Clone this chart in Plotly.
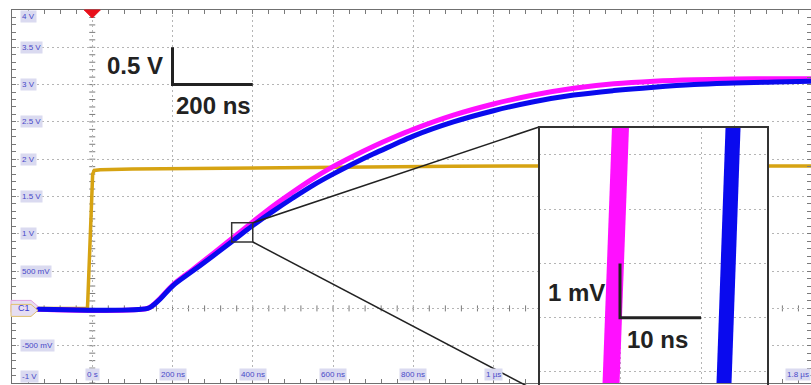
import numpy as np
import plotly.graph_objects as go

# ---------------- data (time in µs, voltage in V) ----------------
t_ch1 = [-0.2, -0.012, -0.011, -0.007, -0.005, -0.002, 0.001, 0.005, 0.02, 0.1, 0.3, 0.6, 0.9, 1.2, 1.5, 1.8]
v_ch1 = [0.0, 0.0, 0.12, 0.65, 0.85, 1.3, 1.8, 1.85, 1.86, 1.87, 1.88, 1.90, 1.905, 1.91, 1.91, 1.91]

t_ch2 = [-0.2, 0.138, 0.15, 0.17, 0.2, 0.25, 0.3, 0.35, 0.4, 0.45, 0.5, 0.55, 0.6, 0.65, 0.7, 0.75, 0.8,
         0.9, 1.0, 1.1, 1.2, 1.3, 1.4, 1.5, 1.6, 1.7, 1.8]
v_ch2 = [0.0, 0.0, 0.04, 0.14, 0.31, 0.52, 0.73, 0.945, 1.16, 1.37, 1.56, 1.74, 1.90, 2.04, 2.17, 2.29, 2.40,
         2.59, 2.74, 2.86, 2.95, 3.01, 3.045, 3.065, 3.075, 3.08, 3.08]

t_ch3 = [-0.2, 0.138, 0.15, 0.17, 0.2, 0.25, 0.3, 0.35, 0.4, 0.45, 0.5, 0.55, 0.6, 0.65, 0.7, 0.75, 0.8,
         0.9, 1.0, 1.1, 1.2, 1.3, 1.4, 1.5, 1.6, 1.7, 1.8]
v_ch3 = [0.0, 0.0, 0.035, 0.13, 0.30, 0.50, 0.70, 0.905, 1.11, 1.30, 1.48, 1.65, 1.80, 1.94, 2.07, 2.19, 2.31,
         2.50, 2.65, 2.77, 2.86, 2.92, 2.965, 3.0, 3.02, 3.035, 3.045]

# zoomed inset (time in ns, voltage in mV)
inset_mv = [-0.5, 5.0]
inset_t_ch2 = [8.82, 10.18]
inset_t_ch3 = [22.77, 24.07]

y_tick_vals = [4, 3.5, 3, 2.5, 2, 1.5, 1, 0.5, -0.5, -1]
y_tick_text = ["4 V", "3.5 V", "3 V", "2.5 V", "2 V", "1.5 V", "1 V", "500 mV", "-500 mV", "-1 V"]
x_tick_vals = [0, 0.2, 0.4, 0.6, 0.8, 1.0]
x_tick_text = ["0 s", "200 ns", "400 ns", "600 ns", "800 ns", "1 µs"]
x_last_label = "1.8 µs"

zoom_box_t = [0.3475, 0.4]
zoom_box_v = [0.89, 1.147]

# ---------------- layout geometry ----------------
W, H = 811, 385
ML, MR, MT, MB = 12, 0, 10, 2
XR = [-0.2, 1.7913]
YR = [-1.0, 4.0]
PW, PH = W - ML - MR, H - MT - MB

INS_X = [(539 - ML) / PW, (768 - ML) / PW]
INS_Y = [0.0, (H - MB - 127) / PH]
INS_XR = [0, 28.27]
INS_YR = [-0.203, 4.516]

GRID = "#b5b5b5"
TICK = "#7a7a7a"
LBL_FONT = dict(family="Liberation Sans, Arial", size=8, color="#4848c8")
LBL_BG = "#dadaf0"
BIG_FONT = dict(family="Liberation Sans, Arial", size=24, color="#222222")


def px(t):
    return (t - XR[0]) / (XR[1] - XR[0])


def py(v):
    return (v - YR[0]) / (YR[1] - YR[0])


fig = go.Figure()

fig.add_trace(go.Scatter(x=t_ch1, y=v_ch1, mode="lines", line=dict(color="#d6a312", width=3.5),
                         hoverinfo="skip", showlegend=False))
fig.add_trace(go.Scatter(x=t_ch2, y=v_ch2, mode="lines", line=dict(color="#ff10ff", width=5, shape="spline", smoothing=1.0),
                         hoverinfo="skip", showlegend=False))
fig.add_trace(go.Scatter(x=t_ch3, y=v_ch3, mode="lines", line=dict(color="#0a0aee", width=5, shape="spline", smoothing=1.0),
                         hoverinfo="skip", showlegend=False))

fig.add_trace(go.Scatter(x=inset_t_ch2, y=inset_mv, mode="lines", line=dict(color="#ff10ff", width=17),
                         xaxis="x2", yaxis="y2", hoverinfo="skip", showlegend=False))
fig.add_trace(go.Scatter(x=inset_t_ch3, y=inset_mv, mode="lines", line=dict(color="#0a0aee", width=15),
                         xaxis="x2", yaxis="y2", hoverinfo="skip", showlegend=False))

shapes = []
# white background for the inset
shapes.append(dict(type="rect", xref="x2 domain", yref="y2 domain", x0=0, x1=1, y0=0, y1=1,
                   fillcolor="white", line=dict(width=0), layer="below"))

# cross ticks on centre lines
for v in np.arange(-1.0, 4.001, 0.1):
    shapes.append(dict(type="line", xref="x", yref="y", xsizemode="pixel", xanchor=0,
                       x0=-3, x1=3, y0=v, y1=v, line=dict(color=TICK, width=1), layer="below"))
for t in np.arange(-0.2, 1.8, 0.04):
    shapes.append(dict(type="line", xref="x", yref="y", ysizemode="pixel", yanchor=0,
                       y0=-3, y1=3, x0=t, x1=t, line=dict(color=TICK, width=1), layer="below"))

# small zoom box
shapes.append(dict(type="rect", xref="x", yref="y", x0=zoom_box_t[0], x1=zoom_box_t[1],
                   y0=zoom_box_v[0], y1=zoom_box_v[1], line=dict(color="#333333", width=1.5)))
# connecting lines
shapes.append(dict(type="line", xref="paper", yref="paper", x0=px(zoom_box_t[1]), y0=py(zoom_box_v[1]),
                   x1=INS_X[0], y1=INS_Y[1], line=dict(color="#222222", width=1.5)))
shapes.append(dict(type="line", xref="paper", yref="paper", x0=px(zoom_box_t[1]), y0=py(zoom_box_v[0]),
                   x1=INS_X[0], y1=-0.025, line=dict(color="#222222", width=1.5)))
# inset frame
shapes.append(dict(type="rect", xref="paper", yref="paper", x0=INS_X[0], x1=INS_X[1],
                   y0=-0.1, y1=INS_Y[1], line=dict(color="#333333", width=2)))

# scale bars
shapes.append(dict(type="path", xref="x", yref="y", path="M 0.2,3.5 L 0.2,3.0 L 0.4,3.0",
                   line=dict(color="#222222", width=3)))
shapes.append(dict(type="path", xref="x2", yref="y2", path="M 10,2 L 10,1 L 20,1",
                   line=dict(color="#222222", width=3)))

# trigger marker
shapes.append(dict(type="path", xref="x", yref="paper", xsizemode="pixel", ysizemode="pixel",
                   xanchor=0, yanchor=1, path="M -8,0 L 8,0 L 0,-8 Z",
                   fillcolor="#e8101a", line=dict(color="#e8101a", width=1)))

# channel marker
for dy, col in [(2, "#e0a0e0"), (-2, "#e0c070")]:
    shapes.append(dict(type="path", xref="paper", yref="y", xsizemode="pixel", ysizemode="pixel",
                       xanchor=0, yanchor=0,
                       path=f"M -1,{6+dy} L 19,{6+dy} L 26,{dy} L 19,{-6+dy} L -1,{-6+dy} Z",
                       fillcolor="#e6def2", line=dict(color=col, width=1)))

annotations = []
for v, txt in zip(y_tick_vals, y_tick_text):
    anchor = "middle"
    if v == 4:
        anchor = "top"
    elif v == -1:
        anchor = "bottom"
    annotations.append(dict(xref="paper", yref="y", x=0, y=v, xshift=8, xanchor="left", yanchor=anchor,
                            text=txt, showarrow=False, font=LBL_FONT, bgcolor=LBL_BG, borderpad=1))
for t, txt in zip(x_tick_vals, x_tick_text):
    annotations.append(dict(xref="x", yref="y", x=t, y=-1, yshift=2, xanchor="center", yanchor="bottom",
                            text=txt, showarrow=False, font=LBL_FONT, bgcolor=LBL_BG, borderpad=1))
annotations.append(dict(xref="paper", yref="y", x=1, y=-1, yshift=2, xanchor="right", yanchor="bottom",
                        text=x_last_label, showarrow=False, font=LBL_FONT, bgcolor=LBL_BG, borderpad=1))
annotations.append(dict(xref="paper", yref="y", x=0, y=0, xshift=4, xanchor="left", yanchor="middle",
                        text="C1", showarrow=False, font=dict(family="Liberation Sans, Arial", size=9, color="#3a3ad0")))

annotations.append(dict(xref="x", yref="y", x=0.2, y=3.25, xshift=-8, xanchor="right", yanchor="middle",
                        text="<b>0.5 V</b>", showarrow=False, font=BIG_FONT))
annotations.append(dict(xref="x", yref="y", x=0.2, y=2.72, xshift=1, xanchor="left", yanchor="middle",
                        text="<b>200 ns</b>", showarrow=False, font=BIG_FONT))
annotations.append(dict(xref="x2", yref="y2", x=10, y=1.46, xshift=-13, xanchor="right", yanchor="middle",
                        text="<b>1 mV</b>", showarrow=False, font=BIG_FONT))
annotations.append(dict(xref="x2", yref="y2", x=14.6, y=0.59, xanchor="center", yanchor="middle",
                        text="<b>10 ns</b>", showarrow=False, font=BIG_FONT))

axis_common = dict(showgrid=True, gridcolor=GRID, griddash="2px,3px", gridwidth=1, zeroline=False,
                   showticklabels=False, fixedrange=True)

fig.update_layout(
    width=W, height=H,
    margin=dict(l=ML, r=MR, t=MT, b=MB, pad=0),
    paper_bgcolor="white", plot_bgcolor="white",
    showlegend=False,
    xaxis=dict(range=XR, tick0=0, dtick=0.2, ticks="inside", ticklen=4, tickcolor=TICK,
               minor=dict(dtick=0.04, tick0=0, ticks="inside", ticklen=4, tickcolor=TICK, showgrid=False),
               showline=True, linecolor="#707070", linewidth=1, mirror="ticks", **axis_common),
    yaxis=dict(range=YR, tick0=0, dtick=0.5, ticks="inside", ticklen=4, tickcolor=TICK,
               minor=dict(dtick=0.1, tick0=0, ticks="inside", ticklen=4, tickcolor=TICK, showgrid=False),
               showline=True, linecolor="#707070", linewidth=1, mirror="ticks", **axis_common),
    xaxis2=dict(domain=INS_X, anchor="y2", range=INS_XR, tick0=0, dtick=10, ticks="", showline=False, **axis_common),
    yaxis2=dict(domain=INS_Y, anchor="x2", range=INS_YR, tick0=0, dtick=1, ticks="", showline=False, **axis_common),
    shapes=shapes,
    annotations=annotations,
)

fig.write_html("out.html", config={"displayModeBar": False},
               post_script="document.body.style.margin='0px';document.body.style.padding='0px';")
